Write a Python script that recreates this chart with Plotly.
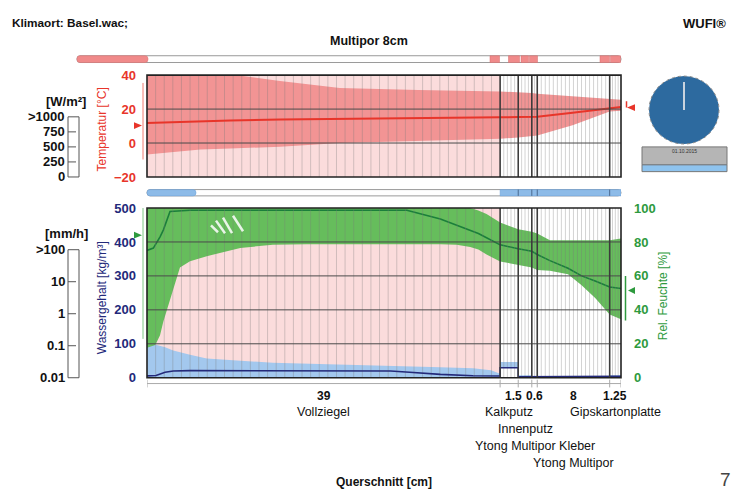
import plotly.graph_objects as go

W, H = 744, 498
OFF = 8  # the page body margin shifts the figure by 8 px
FONT = "Liberation Sans"

# ---------------- data ----------------
layer_names = ["Vollziegel", "Kalkputz", "Innenputz", "Ytong Multipor Kleber", "Ytong Multipor", "Gipskartonplatte"]
layer_thickness = [39, 2, 1.5, 0.6, 8, 1.25]
thickness_labels = ["39", "2", "1.5", "0.6", "8", "1.25"]
thickness_label_shown = [True, False, True, True, True, True]
name_rows = [0, 0, 1, 2, 3, 0]
mesh_counts = [40, 4, 3, 1, 17, 3]

temp_x = [0, 5.9, 9.2, 14.7, 21.3, 30, 39, 41, 42.5, 43.1, 47, 51.1, 52.35]
temp_max = [48, 44, 40.5, 36.6, 32.4, 31.2, 30.4, 30.0, 29.4, 29.0, 27.6, 25.8, 25.5]
temp_mean = [11.8, 12.9, 13.3, 13.8, 14.3, 14.8, 15.2, 15.3, 15.4, 15.5, 17.8, 20.4, 21.3]
temp_min = [-6.7, -3.8, -3.2, -2.2, 0.0, 1.3, 2.5, 3.3, 4.0, 4.5, 10.5, 18.5, 19.0]

rh_x = [0, 0.35, 0.7, 1.44, 1.8, 2.54, 3.64, 4.75, 6.6, 10.3, 13.9, 17.6, 28.7, 32.4,
        34.2, 35.7, 36.6, 37.5, 39, 41, 42.5, 43.1, 44.5, 46.5, 48, 49.5, 51.1, 52.35]
rh_max = [100, 100, 100, 100, 100, 100, 100, 100, 100, 100, 100, 100, 100, 100,
          100, 100, 98.5, 96.5, 91.5, 87.5, 86, 85, 81, 81, 81, 81, 81, 82]
rh_mean = [75, 75.5, 76.4, 83, 87, 97.9, 98.5, 98.7, 98.7, 98.7, 98.7, 98.7, 98.7, 93.5,
           90, 87, 85, 82.5, 78.3, 76, 74.5, 72.6, 69, 64.5, 60, 57, 53.5, 52.6]
rh_min = [14, 15, 17, 25, 33, 46, 65, 68.7, 71.6, 76.5, 78.3, 78.7, 78.9, 78.7,
          78.3, 77, 75.5, 72.6, 68.5, 66.5, 65, 63.5, 63, 61, 54.5, 47, 37.3, 34.5]

wc_x = [0, 1.0, 2.0, 2.9, 4.75, 6.6, 13.9, 25, 26.9, 29, 32.4, 36, 38, 39,
        39, 41, 41, 42.5, 42.5, 43.1, 43.1, 51.1, 51.1, 52.35]
wc_max = [88, 97, 90, 80, 68, 57, 44, 37, 36, 34, 31, 28, 22, 12,
          46, 46, 7, 7, 5, 5, 4, 4, 7, 7]
wc_mean = [5.5, 6.5, 16, 20, 21, 21, 21, 21, 20, 16, 10, 6, 5, 5,
           29.5, 29.5, 3, 3, 3, 3, 2.5, 2.5, 4, 4]
wc_min = [0.5, 0.5, 0.5, 0.5, 0.5, 0.5, 0.5, 0.5, 0.5, 0.5, 0.5, 0.5, 0.5, 0.5,
          29, 29, 1.5, 1.5, 1.5, 1.5, 1, 1, 1.5, 1.5]

temp_ticks = [-20, 0, 20, 40]
wc_ticks = [0, 100, 200, 300, 400, 500]
rh_ticks = [0, 20, 40, 60, 80, 100]
radiation_labels = [">1000", "750", "500", "250", "0"]
rain_labels = [">100", "10", "1", "0.1", "0.01"]

outdoor_temp, outdoor_temp_range = 10.3, [-9.7, 35.4]
indoor_temp, indoor_temp_range = 20.9, [20.9, 24.6]
outdoor_rh, outdoor_rh_range = 84, [22.9, 100]
indoor_rh, indoor_rh_range = 51.4, [33.7, 60]

# ---------------- colours ----------------
C_PINK_BG = "#fbdcdc"
C_RED_BAND = "#f29494"
C_RED = "#e8352a"
C_GREEN_BAND = "#66bd5c"
C_GREEN = "#1b7f3b"
C_GREEN_TXT = "#2e9a3e"
C_BLUE_BAND = "#a3c8ee"
C_NAVY = "#23297a"
C_GRID = "#4a4a4a"


def px(x):
    return (x - OFF) / W


def py(y):
    return 1 - (y - OFF) / H


fig = go.Figure()


def band(x, lo, hi, color, yaxis):
    fig.add_trace(go.Scatter(x=x, y=lo, mode="lines", line=dict(width=0, color=color),
                             yaxis=yaxis, hoverinfo="skip", showlegend=False))
    fig.add_trace(go.Scatter(x=x, y=hi, mode="lines", line=dict(width=0, color=color),
                             fill="tonexty", fillcolor=color, yaxis=yaxis,
                             hoverinfo="skip", showlegend=False))


bounds = [0]
for t in layer_thickness:
    bounds.append(bounds[-1] + t)
total = bounds[-1]

mesh_x = []
for i, n in enumerate(mesh_counts):
    a, b = bounds[i], bounds[i + 1]
    for k in range(1, n + 1):
        mesh_x.append(a + (b - a) * k / (n + 1))


def mesh(yaxis, y0, y1):
    xs, ys = [], []
    for m in mesh_x:
        xs += [m, m, None]
        ys += [y0, y1, None]
    fig.add_trace(go.Scatter(x=xs, y=ys, mode="lines",
                             line=dict(color="rgba(120,120,120,0.33)", width=1),
                             yaxis=yaxis, hoverinfo="skip", showlegend=False))


# upper panel: temperature
band(temp_x, temp_min, temp_max, C_RED_BAND, "y")
mesh("y", -20, 40)
fig.add_trace(go.Scatter(x=temp_x, y=temp_mean, mode="lines", line=dict(color=C_RED, width=2),
                         yaxis="y", showlegend=False))

# lower panel: RH (base axis y2, right) and water content (overlay y3, left)
band(rh_x, rh_min, rh_max, C_GREEN_BAND, "y2")
fig.add_trace(go.Scatter(x=rh_x, y=rh_mean, mode="lines", line=dict(color=C_GREEN, width=1.6),
                         yaxis="y2", showlegend=False))
band(wc_x, wc_min, wc_max, C_BLUE_BAND, "y3")
mesh("y3", 0, 500)
fig.add_trace(go.Scatter(x=wc_x, y=wc_mean, mode="lines", line=dict(color=C_NAVY, width=1.6),
                         yaxis="y3", showlegend=False))

shapes = []
annotations = []


def txt(x, y, text, size, color="#111", bold=False, xanchor="center", yanchor="middle",
        xref="paper", angle=0, xshift=0):
    f = dict(family=FONT, size=size, color=color)
    if bold:
        f["weight"] = "bold"
    annotations.append(dict(x=x, y=y, xref=xref, yref="paper", text=text, showarrow=False,
                            xanchor=xanchor, yanchor=yanchor, textangle=angle, xshift=xshift, font=f))


# Vollziegel pink background
for yr in ["y domain", "y2 domain"]:
    shapes.append(dict(type="rect", xref="x", yref=yr, x0=bounds[0], x1=bounds[1], y0=0, y1=1,
                       fillcolor=C_PINK_BG, line=dict(width=0), layer="below"))

# white scratch marks inside the green band (as in the source image)
for x0, y0, x1, y1 in [(211, 225, 218, 232), (216, 220, 225, 233), (223, 217, 232, 233), (233, 215, 243, 231)]:
    shapes.append(dict(type="line", xref="paper", yref="paper", x0=px(x0), y0=py(y0), x1=px(x1), y1=py(y1),
                       line=dict(color="rgba(255,255,255,0.85)", width=2.5), layer="above"))

# horizontal gridlines
for v in temp_ticks[1:-1]:
    shapes.append(dict(type="line", xref="x domain", yref="y", x0=0, x1=1, y0=v, y1=v,
                       line=dict(color=C_GRID, width=1), layer="above"))
for v in wc_ticks[1:-1]:
    shapes.append(dict(type="line", xref="x domain", yref="y3", x0=0, x1=1, y0=v, y1=v,
                       line=dict(color=C_GRID, width=1), layer="above"))

# layer boundaries
for b in bounds[1:-1]:
    for yr in ["y domain", "y2 domain"]:
        shapes.append(dict(type="line", xref="x", yref=yr, x0=b, x1=b, y0=0, y1=1,
                           line=dict(color="#3c3c3c", width=1.6), layer="above"))

# panel frames
for yr in ["y domain", "y2 domain"]:
    shapes.append(dict(type="rect", xref="x domain", yref=yr, x0=0, x1=1, y0=0, y1=1,
                       line=dict(color="#222", width=1.6), fillcolor="rgba(0,0,0,0)", layer="above"))

# ruler under the lower panel
shapes.append(dict(type="line", xref="x domain", yref="paper", x0=0, x1=1, y0=py(388), y1=py(388),
                   line=dict(color="#aaaaaa", width=1)))
for b in bounds:
    shapes.append(dict(type="line", xref="x", yref="paper", x0=b, x1=b, y0=py(384), y1=py(392),
                       line=dict(color="#aaaaaa", width=1)))


def rpath(x0, y0, x1, y1, r):
    P = lambda x, y: f"{px(x):.5f},{py(y):.5f}"
    return (f"M{P(x0 + r, y0)} L{P(x1 - r, y0)} Q{P(x1, y0)} {P(x1, y0 + r)} "
            f"L{P(x1, y1 - r)} Q{P(x1, y1)} {P(x1 - r, y1)} L{P(x0 + r, y1)} "
            f"Q{P(x0, y1)} {P(x0, y1 - r)} L{P(x0, y0 + r)} Q{P(x0, y0)} {P(x0 + r, y0)} Z")


# top progress bar
shapes.append(dict(type="path", xref="paper", yref="paper", path=rpath(77, 50, 621, 57, 3),
                   fillcolor="white", line=dict(color="#9a9a9a", width=1)))
shapes.append(dict(type="path", xref="paper", yref="paper", path=rpath(77, 50, 148, 57, 3),
                   fillcolor="#f08a8a", line=dict(color="#e07070", width=0.5)))
for a, b in [(490, 499.5), (508.5, 519.5), (521, 528.5), (529.5, 537.5), (600, 609.5), (610.5, 620.5)]:
    shapes.append(dict(type="rect", xref="paper", yref="paper", x0=px(a), x1=px(b), y0=py(57), y1=py(50),
                       fillcolor="#f08a8a", line=dict(color="#d86a6a", width=0.5)))

# middle bar
shapes.append(dict(type="path", xref="paper", yref="paper", path=rpath(147, 188, 621, 194.5, 3),
                   fillcolor="white", line=dict(color="#9a9a9a", width=1)))
shapes.append(dict(type="path", xref="paper", yref="paper", path=rpath(147, 188, 196, 194.5, 3),
                   fillcolor="#8dbbe8", line=dict(color="#6b9fd6", width=0.5)))
shapes.append(dict(type="rect", xref="x", yref="paper", x0=bounds[1], x1=bounds[-1], y0=py(194.5), y1=py(188),
                   fillcolor="#8dbbe8", line=dict(color="#6b9fd6", width=0.5)))
for b in bounds[2:-1]:
    shapes.append(dict(type="line", xref="x", yref="paper", x0=b, x1=b, y0=py(194.5), y1=py(188),
                       line=dict(color="#4a6a90", width=1)))


# boundary-condition markers
def tri(xa, xb, yref, yv, half, right=True):
    tip, base = (xb, xa) if right else (xa, xb)
    return dict(type="path", xref="paper", yref=yref,
                path=f"M{px(base):.5f},{yv - half} L{px(tip):.5f},{yv} L{px(base):.5f},{yv + half} Z",
                fillcolor=C_RED if yref == "y" else C_GREEN_TXT, line=dict(width=0))


shapes.append(dict(type="line", xref="paper", yref="y", x0=px(143), x1=px(143),
                   y0=outdoor_temp_range[0], y1=outdoor_temp_range[1], line=dict(color="#f07a70", width=1)))
shapes.append(tri(134, 142, "y", outdoor_temp, 2.0, True))
shapes.append(dict(type="line", xref="paper", yref="y", x0=px(626.5), x1=px(626.5),
                   y0=indoor_temp_range[0], y1=indoor_temp_range[1], line=dict(color=C_RED, width=1.5)))
shapes.append(tri(627, 635, "y", indoor_temp, 2.0, False))
shapes.append(dict(type="line", xref="paper", yref="y2", x0=px(143), x1=px(143),
                   y0=outdoor_rh_range[0], y1=outdoor_rh_range[1], line=dict(color="#7cc884", width=1)))
shapes.append(tri(134, 142, "y2", outdoor_rh, 2.0, True))
shapes.append(dict(type="line", xref="paper", yref="y2", x0=px(625.5), x1=px(625.5),
                   y0=indoor_rh_range[0], y1=indoor_rh_range[1], line=dict(color=C_GREEN_TXT, width=1.5)))
shapes.append(tri(628, 635, "y2", indoor_rh, 2.0, False))

# clock
shapes.append(dict(type="circle", xref="paper", yref="paper", x0=px(649), x1=px(719), y0=py(141), y1=py(71),
                   fillcolor="#2d6a9f", line=dict(color="#8a8a8a", width=1, dash="dot")))
shapes.append(dict(type="line", xref="paper", yref="paper", x0=px(684), x1=px(684), y0=py(106), y1=py(77),
                   line=dict(color="#c9d3de", width=2)))
shapes.append(dict(type="rect", xref="paper", yref="paper", x0=px(642), x1=px(727), y0=py(162.5), y1=py(144),
                   fillcolor="#b5b5b5", line=dict(color="#777", width=1)))
shapes.append(dict(type="rect", xref="paper", yref="paper", x0=px(642), x1=px(727), y0=py(169.5), y1=py(162.5),
                   fillcolor="#8ec3ee", line=dict(color="#777", width=1)))
txt(px(684), py(148.5), "01.10.2015", 5, "#333")


# left mini scales (radiation, rain)
def mini_scale(top, bottom, labels, unit, unit_y):
    shapes.append(dict(type="rect", xref="paper", yref="paper", x0=px(68), x1=px(79), y0=py(bottom), y1=py(top),
                       fillcolor="white", line=dict(color="#555", width=1)))
    n = len(labels)
    for i, lab in enumerate(labels):
        yy = top + (bottom - top) * i / (n - 1)
        if 0 < i < n - 1:
            shapes.append(dict(type="line", xref="paper", yref="paper", x0=px(68), x1=px(76),
                               y0=py(yy), y1=py(yy), line=dict(color="#555", width=1)))
        txt(px(67), py(yy), lab, 13, bold=True, xanchor="right")
    txt(px(66), py(unit_y), unit, 13, bold=True)


mini_scale(113, 175, radiation_labels, "[W/m²]", 97)
mini_scale(250, 382, rain_labels, "[mm/h]", 233)

# axis titles
txt(px(102), py(126), "Temperatur [°C]", 12, C_RED, angle=-90)
txt(px(102), py(300), "Wassergehalt [kg/m³]", 12, C_NAVY, angle=-90)
txt(px(663), py(298), "Rel. Feuchte [%]", 12, C_GREEN_TXT, angle=-90)

# layer thickness + names
label_shift = [0, 0, -12, 0, 0, 0]
row_y = [417, 434.5, 452, 469.5]
for i, name in enumerate(layer_names):
    cx = (bounds[i] + bounds[i + 1]) / 2
    if thickness_label_shown[i]:
        txt(cx, py(401), thickness_labels[i], 12, bold=True, xref="x", xshift=label_shift[i])
    txt(cx, py(row_y[name_rows[i]]), name, 12.5, xref="x")

# titles
txt(px(10), py(16.5), "Klimaort: Basel.wac;", 11.8, bold=True, xanchor="left")
txt(px(728), py(16.5), "WUFI®", 13, bold=True, xanchor="right")
txt(px(368.5), py(35), "Multipor 8cm", 12.5, bold=True)
txt(px(384), py(489), "Querschnitt [cm]", 12, bold=True)
txt(px(725), py(487), "7", 19, "#444")

xdom = [px(147), px(621)]
fig.update_layout(
    width=W, height=H, margin=dict(l=0, r=0, t=0, b=0),
    paper_bgcolor="white", plot_bgcolor="white", showlegend=False,
    font=dict(family=FONT),
    xaxis=dict(domain=xdom, range=[0, total], anchor="y2", showticklabels=False, showgrid=False,
               zeroline=False, ticks="", showline=False),
    yaxis=dict(domain=[py(175), py(70)], range=[-20, 40], anchor="x", tickvals=temp_ticks,
               showgrid=False, zeroline=False, ticks="", ticklabelstandoff=10,
               tickfont=dict(family=FONT, size=13, color=C_RED, weight="bold")),
    yaxis2=dict(domain=[py(382), py(207)], range=[0, 100], anchor="x", side="right", tickvals=rh_ticks,
                showgrid=False, zeroline=False, ticks="", ticklabelstandoff=12,
                tickfont=dict(family=FONT, size=13, color=C_GREEN_TXT, weight="bold")),
    yaxis3=dict(range=[0, 500], anchor="x", overlaying="y2", side="left", tickvals=wc_ticks,
                showgrid=False, zeroline=False, ticks="", ticklabelstandoff=10,
                tickfont=dict(family=FONT, size=13, color=C_NAVY, weight="bold")),
    shapes=shapes, annotations=annotations,
)

fig.write_html("out.html")
